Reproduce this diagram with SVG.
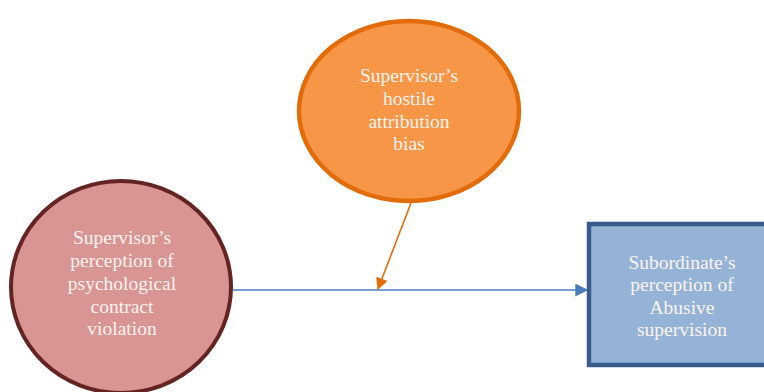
<svg xmlns="http://www.w3.org/2000/svg" width="764" height="392" viewBox="0 0 764 392">
  <style>
    .lbl { font-family: "Liberation Serif", "Times New Roman", serif; font-size: 19.5px; fill: #FBF3EE; text-anchor: middle; }
  </style>
  <defs>
    <marker id="arrowBlue" viewBox="0 0 10 10" refX="9" refY="5" markerWidth="14" markerHeight="13" markerUnits="userSpaceOnUse" orient="auto">
      <path d="M0,0 L10,5 L0,10 z" fill="#4A7EBB"/>
    </marker>
    <marker id="arrowOrange" viewBox="0 0 10 10" refX="9" refY="5" markerWidth="14" markerHeight="12" markerUnits="userSpaceOnUse" orient="auto">
      <path d="M0,0 L10,5 L0,10 z" fill="#E46C0A"/>
    </marker>
  </defs>

  <rect width="764" height="392" fill="#FFFFFF"/>

  <g id="connectors">
    <line x1="233" y1="290" x2="587" y2="290" stroke="#4A7EBB" stroke-width="1.5" marker-end="url(#arrowBlue)"/>
    <line x1="411" y1="203" x2="378" y2="289" stroke="#E46C0A" stroke-width="1.6" marker-end="url(#arrowOrange)"/>
  </g>

  <g id="node-hostile">
    <ellipse cx="409" cy="111" rx="110" ry="90" fill="#F79646" stroke="#E36C0A" stroke-width="4.5"/>
    <text class="lbl" x="409" y="82">Supervisor’s</text>
    <text class="lbl" x="409" y="105">hostile</text>
    <text class="lbl" x="409" y="128">attribution</text>
    <text class="lbl" x="409" y="150">bias</text>
  </g>

  <g id="node-violation">
    <ellipse cx="121" cy="287" rx="110" ry="106" fill="#D99594" stroke="#632423" stroke-width="4"/>
    <text class="lbl" x="122" y="244">Supervisor’s</text>
    <text class="lbl" x="122" y="267">perception of</text>
    <text class="lbl" x="122" y="290">psychological</text>
    <text class="lbl" x="122" y="313">contract</text>
    <text class="lbl" x="122" y="335">violation</text>
  </g>

  <g id="node-abusive">
    <rect x="589" y="224" width="186" height="141" fill="#95B3D7" stroke="#385D8A" stroke-width="4.5"/>
    <text class="lbl" x="682" y="269">Subordinate’s</text>
    <text class="lbl" x="682" y="291">perception of</text>
    <text class="lbl" x="682" y="314">Abusive</text>
    <text class="lbl" x="682" y="336">supervision</text>
  </g>
</svg>
